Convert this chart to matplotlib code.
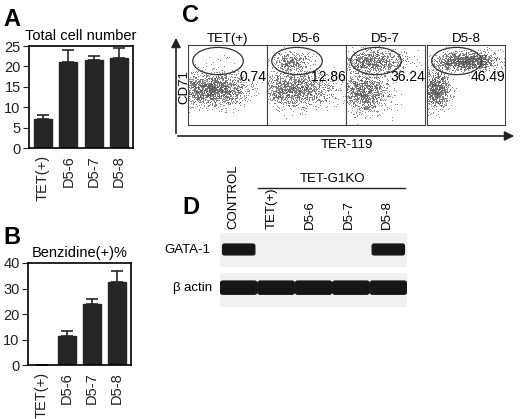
import numpy as np
import matplotlib
matplotlib.use("Agg")
import matplotlib.pyplot as plt
from matplotlib.patches import Ellipse, FancyBboxPatch
plt.rcParams['font.family'] = ['Liberation Sans', 'DejaVu Sans']

W, H = 520, 419
# data
cats = ["TET(+)", "D5-6", "D5-7", "D5-8"]
total_vals = [7.2, 21.2, 21.5, 22.0]
total_err = [1.0, 2.8, 1.1, 2.5]
benz_vals = [0.0, 11.5, 24.0, 32.5]
benz_err = [0.0, 2.0, 2.0, 4.5]
facs_pct = ["0.74", "12.86", "36.24", "46.49"]
# cluster descriptions per panel: (cx, cy, sx, sy, n) in panel units
facs_low = [(0.30, 0.45, 0.22, 0.10, 1800), (0.35, 0.45, 0.25, 0.11, 1500),
            (0.22, 0.42, 0.16, 0.13, 1200), (0.12, 0.45, 0.09, 0.12, 900)]
facs_high = [(0.4, 0.8, 0.1, 0.05, 15), (0.3, 0.8, 0.12, 0.06, 350),
             (0.35, 0.8, 0.2, 0.07, 800), (0.5, 0.8, 0.2, 0.06, 1300)]
lanes = ["CONTROL", "TET(+)", "D5-6", "D5-7", "D5-8"]
gata = [1, 0, 0, 0, 1]
actin = [1, 1, 1, 1, 1]

fig = plt.figure(figsize=(W/100, H/100), dpi=100)
def ax_px(l, t, r, b, **kw):
    return fig.add_axes([l/W, 1-b/H, (r-l)/W, (b-t)/H], **kw)

def barpanel(l, t, r, b, vals, errs, ymax, step, title):
    ax = ax_px(l, t, r, b)
    x = np.arange(len(vals))
    ax.bar(x, vals, width=0.72, color="#262626", edgecolor="#262626")
    ax.errorbar(x, vals, yerr=[np.zeros(len(errs)), errs], fmt="none", ecolor="#262626",
                elinewidth=1.2, capsize=4, capthick=1.2)
    ax.set_xlim(-0.55, len(vals)-0.45)
    ax.set_ylim(0, ymax)
    ax.set_yticks(np.arange(0, ymax+1, step))
    ax.set_xticks(x)
    ax.set_xticklabels(cats, rotation=90)
    ax.tick_params(labelsize=10.5, length=4, colors="#222", pad=2)
    ax.tick_params(axis="x", length=0, pad=5)
    for s in ax.spines.values():
        s.set_linewidth(1.2)
    ax.set_title(title, fontsize=10.5, pad=4)
    return ax

barpanel(29, 46, 133, 148, total_vals, total_err, 25, 5, "Total cell number")
barpanel(28, 263, 131, 365, benz_vals, benz_err, 40, 10, "Benzidine(+)%")

fig.text(3/W, 1-20/H, "A", fontsize=17, fontweight="bold", va="center")
fig.text(3/W, 1-237/H, "B", fontsize=17, fontweight="bold", va="center")
fig.text(182/W, 1-15/H, "C", fontsize=17, fontweight="bold", va="center")
fig.text(182/W, 1-207/H, "D", fontsize=17, fontweight="bold", va="center")

# panel C
bounds = [(188, 267), (267, 346), (346, 425), (427, 505)]
rng = np.random.default_rng(3)
for i, (l, r) in enumerate(bounds):
    ax = ax_px(l, 45, r, 125)
    for (cx, cy, sx, sy, n) in (facs_low[i], facs_high[i]):
        xs = rng.normal(cx, sx, n); ys = rng.normal(cy, sy, n)
        ax.scatter(xs, ys, s=0.3, c="#555", linewidths=0)
    ax.add_patch(Ellipse((0.38, 0.8), 0.64, 0.34, fill=False, lw=0.9, ec="#333"))
    ax.text(1.0, 0.6, facs_pct[i], ha="right", va="center", fontsize=10)
    ax.set_xlim(0, 1); ax.set_ylim(0, 1)
    ax.set_xticks([]); ax.set_yticks([])
    for s in ax.spines.values():
        s.set_linewidth(0.8); s.set_color("#444")
    ax.set_title(cats[i], fontsize=9.5, pad=2)
axo = ax_px(0, 0, W, H); axo.set_xlim(0, W); axo.set_ylim(H, 0); axo.axis("off")
axo.annotate("", xy=(176, 35), xytext=(176, 136), arrowprops=dict(arrowstyle="-|>", color="#222", lw=1.2, mutation_scale=14))
axo.annotate("", xy=(517, 136), xytext=(175, 136), arrowprops=dict(arrowstyle="-|>", color="#222", lw=1.2, mutation_scale=14))
fig.text(184/W, 1-87/H, "CD71", rotation=90, fontsize=9.5, va="center", ha="center")
fig.text(347/W, 1-145/H, "TER-119", fontsize=9.5, va="center", ha="center")

# panel D
axb = ax_px(220, 233, 407, 307)
axb.set_xlim(-0.5, len(lanes)-0.5); axb.set_ylim(2.2, 0)
axb.axis("off")
for yb0, yb1 in ((0, 1), (1.2, 2.2)):
    axb.add_patch(plt.Rectangle((-0.5, yb0), len(lanes), yb1-yb0, color="#f1f1f1", lw=0))
for i in range(len(lanes)):
    if gata[i]:
        axb.add_patch(FancyBboxPatch((i-0.38, 0.38), 0.76, 0.22, boxstyle="round,pad=0.05", color="#161616"))
    if actin[i]:
        axb.add_patch(FancyBboxPatch((i-0.42, 1.5), 0.84, 0.25, boxstyle="round,pad=0.07", color="#161616"))
    fig.text((233 + i*38.5)/W, 1-229/H, lanes[i], rotation=90, fontsize=9.5, ha="center", va="bottom")
fig.text(210/W, 1-250/H, "GATA-1", fontsize=9.5, ha="right", va="center")
fig.text(173/W, 1-288/H, "β actin", fontsize=9.5, ha="left", va="center")
fig.text(300/W, 1-179/H, "TET-G1KO", fontsize=9.5, ha="left", va="center")
axo.plot([258, 405], [188, 188], color="#222", lw=1)

fig.savefig("out.png", dpi=100)
